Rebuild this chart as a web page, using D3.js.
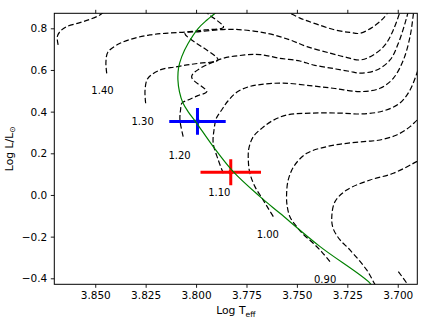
<!DOCTYPE html>
<html><head><meta charset="utf-8">
<script src="https://cdn.jsdelivr.net/npm/d3@7"></script>
<style>
html,body{margin:0;padding:0;background:#fff;}
svg{display:block;}
text{font-family:"DejaVu Sans",sans-serif;fill:#000;}
</style></head><body>
<svg id="chart" width="425" height="332"></svg>
<script>
// ---- Data (log Teff, log L/Lsun) ----
const m150 = [[3.8684,0.720],[3.8688,0.760],[3.8675,0.784],[3.8642,0.808],[3.8576,0.827],[3.8526,0.843],[3.8477,0.864],[3.8447,0.888]];
const m140 = [[3.8443,0.584],[3.8447,0.638],[3.8437,0.686],[3.8377,0.728],[3.8303,0.753],[3.8229,0.768],[3.8154,0.776],[3.8055,0.782],[3.7956,0.792],[3.7864,0.806],[3.7940,0.869],[3.7956,0.888],
  null,
  [3.7564,0.888],[3.7485,0.849],[3.7405,0.821],[3.7311,0.792],[3.7237,0.780],[3.7187,0.776],[3.7121,0.808],[3.7072,0.848],[3.7047,0.880],[3.7038,0.907]];
const m130 = [[3.8250,0.440],[3.8253,0.504],[3.8239,0.560],[3.8179,0.600],[3.8105,0.614],[3.8045,0.624],[3.7981,0.633],[3.7891,0.648],[3.8055,0.775],[3.7981,0.784],[3.7817,0.795],[3.7648,0.776],[3.7534,0.744],[3.7450,0.712],[3.7336,0.681],[3.7261,0.662],[3.7187,0.648],[3.7121,0.672],[3.7063,0.720],[3.7022,0.792],[3.6989,0.880],[3.6979,0.921]];
const m120 = [[3.8064,0.280],[3.8080,0.360],[3.8077,0.408],[3.8070,0.441],[3.8040,0.456],[3.7991,0.477],[3.7947,0.496],[3.8022,0.568],[3.7891,0.648],[3.7758,0.672],[3.7683,0.674],[3.7584,0.656],[3.7485,0.643],[3.7419,0.624],[3.7320,0.607],[3.7237,0.593],[3.7187,0.585],[3.7104,0.600],[3.7038,0.648],[3.6997,0.728],[3.6964,0.824],[3.6948,0.880],[3.6939,0.917]];
const m110 = [[3.7865,0.104],[3.7890,0.168],[3.7915,0.248],[3.7911,0.312],[3.7899,0.369],[3.7873,0.408],[3.7842,0.451],[3.7797,0.494],[3.7743,0.518],[3.7683,0.530],[3.7569,0.537],[3.7419,0.523],[3.7311,0.511],[3.7187,0.496],[3.7088,0.512],[3.7022,0.560],[3.6972,0.648],[3.6939,0.760],[3.6923,0.864],[3.6919,0.897]];
const m100 = [[3.7617,-0.104],[3.7643,-0.063],[3.7673,-0.015],[3.7708,0.040],[3.7733,0.104],[3.7741,0.168],[3.7738,0.225],[3.7716,0.280],[3.7673,0.321],[3.7624,0.355],[3.7551,0.384],[3.7420,0.393],[3.7286,0.393],[3.7177,0.389],[3.7073,0.403],[3.6989,0.441],[3.6939,0.504],[3.6903,0.590],[3.6890,0.629]];
const m090 = [[3.7336,-0.320],[3.7376,-0.274],[3.7419,-0.232],[3.7470,-0.187],[3.7501,-0.152],[3.7534,-0.106],[3.7549,-0.048],[3.7551,0.008],[3.7543,0.072],[3.7514,0.139],[3.7451,0.200],[3.7352,0.232],[3.7253,0.248],[3.7157,0.257],[3.7088,0.264],[3.7005,0.288],[3.6939,0.328],[3.6903,0.360],[3.6890,0.369]];
const m080 = [[3.7088,-0.466],[3.7113,-0.429],[3.7154,-0.360],[3.7237,-0.264],[3.7286,-0.216],[3.7321,-0.159],[3.7327,-0.104],[3.7311,-0.032],[3.7253,0.024],[3.7137,0.072],[3.7022,0.104],[3.6906,0.160],[3.6890,0.168]];
const m070 = [[3.6997,-0.368],[3.6955,-0.424],[3.6944,-0.442]];

const isochrone = [[3.7881,0.897],[3.7906,0.872],[3.7946,0.840],[3.7989,0.800],[3.8039,0.728],[3.8071,0.664],[3.8087,0.609],[3.8090,0.552],[3.8082,0.494],[3.8065,0.441],[3.8038,0.398],[3.8001,0.350],[3.7915,0.232],[3.7816,0.112],[3.7683,-0.008],[3.7584,-0.088],[3.7385,-0.248],[3.7137,-0.424],[3.7118,-0.456]];

const trackLabels = ["1.40","1.30","1.20","1.10","1.00","0.90"];
const labelLogT   = [3.8464,3.8265,3.8082,3.7885,3.7644,3.7360];
const labelLogL   = [0.503,0.353,0.189,0.012,-0.188,-0.404];

const starLogT  = [3.7993, 3.7828];
const starLogL  = [0.353, 0.109];
const starErrT  = [0.014, 0.015];
const starErrL  = [0.064, 0.062];
const starColor = ["#0000ff", "#ff0000"];

const xTicks = [3.850, 3.825, 3.800, 3.775, 3.750, 3.725, 3.700];
const yTicks = [-0.4, -0.2, 0.0, 0.2, 0.4, 0.6, 0.8];

// ---- Layout ----
const W = 425, H = 332;
const plot = {left: 54.3, right: 417.3, top: 13.3, bottom: 284.3};
const x = d3.scaleLinear().domain([3.8703, 3.6903]).range([plot.left, plot.right]);
const y = d3.scaleLinear().domain([-0.4288, 0.872]).range([plot.bottom, plot.top]);

const svg = d3.select("#chart");
svg.append("rect").attr("width", W).attr("height", H).attr("fill", "#fff");
svg.append("defs").append("clipPath").attr("id", "clip")
  .append("rect").attr("x", plot.left).attr("y", plot.top)
  .attr("width", plot.right - plot.left).attr("height", plot.bottom - plot.top);

const g = svg.append("g").attr("clip-path", "url(#clip)");
const line = d3.line().defined(d => d != null)
  .x(d => x(d[0])).y(d => y(d[1]))
  .curve(d3.curveCatmullRom.alpha(0.5));

[m150, m140, m130, m120, m110, m100, m090, m080, m070].forEach(t => {
  g.append("path").attr("d", line(t)).attr("fill", "none")
    .attr("stroke", "#000").attr("stroke-width", 1.2)
    .attr("stroke-dasharray", "5.5,2.6");
});

// error bars
starLogT.forEach((t, i) => {
  const c = starColor[i];
  g.append("line").attr("x1", x(t - starErrT[i])).attr("x2", x(t + starErrT[i]))
    .attr("y1", y(starLogL[i])).attr("y2", y(starLogL[i]))
    .attr("stroke", c).attr("stroke-width", 3);
  g.append("line").attr("x1", x(t)).attr("x2", x(t))
    .attr("y1", y(starLogL[i] - starErrL[i])).attr("y2", y(starLogL[i] + starErrL[i]))
    .attr("stroke", c).attr("stroke-width", 3);
  g.append("circle").attr("cx", x(t)).attr("cy", y(starLogL[i])).attr("r", 2.4).attr("fill", c);
});

// isochrone
g.append("path").attr("d", line(isochrone)).attr("fill", "none")
  .attr("stroke", "#008000").attr("stroke-width", 1.2);

// track labels
trackLabels.forEach((lab, i) => {
  svg.append("text").attr("x", x(labelLogT[i])).attr("y", y(labelLogL[i]))
    .attr("dy", "0.36em").attr("text-anchor", "middle")
    .attr("font-size", 10).text(lab);
});

// axes
const fmtX = d3.format(".3f"), fmtY = d3.format(".1f");
const ax = svg.append("g").attr("transform", `translate(0,${plot.bottom})`)
  .call(d3.axisBottom(x).tickValues(xTicks).tickFormat(fmtX).tickSize(3.5).tickPadding(3.5));
svg.append("g").attr("transform", `translate(0,${plot.top})`)
  .call(d3.axisTop(x).tickValues(xTicks).tickFormat("").tickSize(3.5));
svg.append("g").attr("transform", `translate(${plot.left},0)`)
  .call(d3.axisLeft(y).tickValues(yTicks).tickFormat(fmtY).tickSize(3.5).tickPadding(3.5));
svg.selectAll(".domain").remove();
svg.selectAll(".tick line").attr("stroke", "#000").attr("stroke-width", 0.9);
svg.selectAll(".tick text").attr("font-family", "DejaVu Sans").attr("font-size", 10.5).attr("fill", "#000");

svg.append("rect").attr("x", plot.left).attr("y", plot.top)
  .attr("width", plot.right - plot.left).attr("height", plot.bottom - plot.top)
  .attr("fill", "none").attr("stroke", "#000").attr("stroke-width", 1);

// axis labels
const xl = svg.append("text").attr("x", (plot.left + plot.right) / 2).attr("y", 314)
  .attr("text-anchor", "middle").attr("font-size", 10.8);
xl.append("tspan").text("Log T");
xl.append("tspan").attr("dy", 2.6).attr("font-size", 7.6).text("eff");

const yl = svg.append("text").attr("transform", `translate(12.5,${(plot.top + plot.bottom) / 2}) rotate(-90)`)
  .attr("text-anchor", "middle").attr("font-size", 10.8);
yl.append("tspan").text("Log L/L");
yl.append("tspan").attr("dy", 2.6).attr("font-size", 7.6).text("\u2299");
</script>
</body></html>
